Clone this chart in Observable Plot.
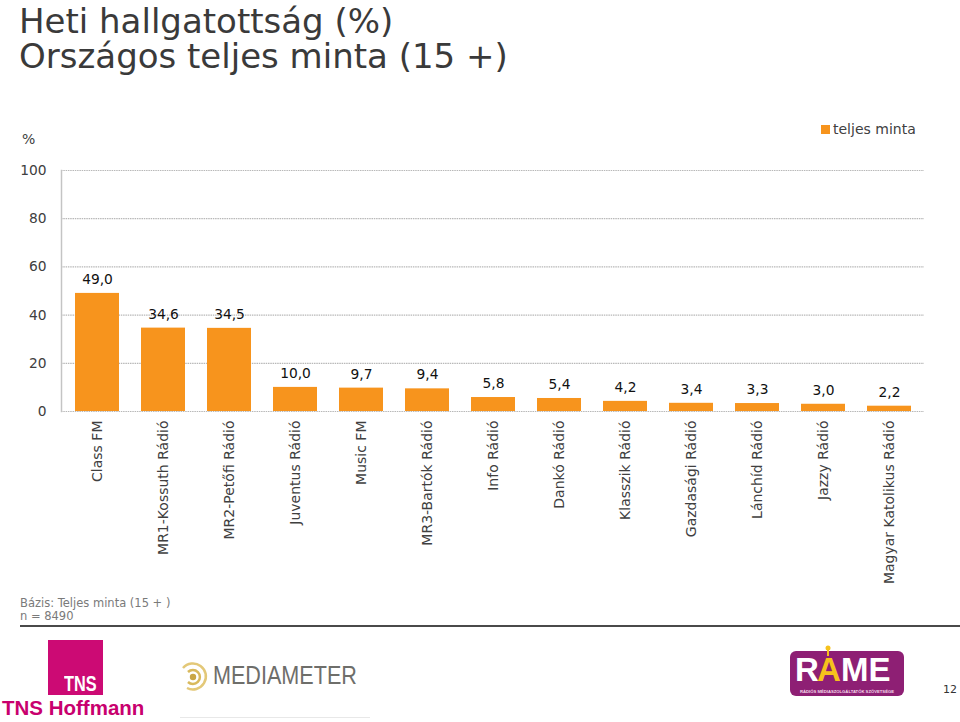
<!DOCTYPE html>
<html>
<head>
<meta charset="utf-8">
<script src="https://cdn.jsdelivr.net/npm/d3@7"></script>
<script src="https://cdn.jsdelivr.net/npm/@observablehq/plot@0.6"></script>
<style>
  html, body { margin: 0; padding: 0; background: #fff; }
  #page { position: relative; width: 960px; height: 722px; overflow: hidden; font-family: "DejaVu Sans", Verdana, sans-serif; }
  .abs { position: absolute; white-space: nowrap; }
  .title { left: 19px; font-size: 34px; line-height: 34px; color: #3a3a3a; }
</style>
</head>
<body>
<div id="page">
  <div class="abs title" style="top:4px;">Heti hallgatottság (%)</div>
  <div class="abs title" style="top:39px;">Országos teljes minta (15 +)</div>
  <div class="abs" style="left:22px; top:131px; font-size:14px; color:#404040;">%</div>
  <div class="abs" style="left:821px; top:121px; font-size:14px; color:#404040;"><span style="display:inline-block;width:9px;height:9px;background:#F7941D;margin-right:3px;vertical-align:0px;"></span>teljes minta</div>
  <div class="abs" id="chart" style="left:0; top:150px;"></div>
  <div class="abs" style="left:20px; top:597px; font-size:11.5px; line-height:13px; color:#7a7a7a;">Bázis: Teljes minta (15 + )<br>n = 8490</div>
  <div class="abs" style="left:20px; top:625px; width:940px; height:2px; background:#4a4a4a;"></div>
  <!-- TNS logo -->
  <div class="abs" style="left:48px; top:640px; width:55px; height:55px; background:#CC0A74;"></div>
  <div class="abs" style="left:64px; top:671px; font-size:22px; line-height:26px; font-weight:bold; color:#fff; font-family:'Liberation Sans',Arial,sans-serif; transform:scaleX(0.74); transform-origin:left top;">TNS</div>
  <div class="abs" style="left:2px; top:696px; font-size:20.5px; font-weight:bold; color:#C8006E; font-family:'Liberation Sans',Arial,sans-serif;">TNS Hoffmann</div>
  <!-- Mediameter logo -->
  <svg class="abs" style="left:178px; top:660px;" width="34" height="34" viewBox="0 0 34 34">
    <circle cx="15" cy="17" r="3.2" fill="#C9A646"/>
    <path d="M10 12 A7 7 0 1 1 10 22" fill="none" stroke="#D8B95C" stroke-width="2.5"/>
    <path d="M5 8 A13 13 0 1 1 9 28" fill="none" stroke="#E3C878" stroke-width="2.5"/>
  </svg>
  <div class="abs" style="left:213px; top:660px; font-size:26px; line-height:30px; color:#6e6e6a; font-family:'Liberation Sans',Arial,sans-serif; transform:scaleX(0.83); transform-origin:left top;">MEDIAMETER</div>
  <div class="abs" style="left:180px; top:717px; width:190px; height:1px; background:#e8e8e8;"></div>
  <!-- RAME logo -->
  <svg class="abs" style="left:788px; top:642px;" width="118" height="58" viewBox="0 0 118 58">
    <rect x="2" y="9" width="114" height="45" rx="6" fill="#8E1F74"/>
    <line x1="40" y1="8" x2="40" y2="14" stroke="#F6C21C" stroke-width="2"/>
    <circle cx="40" cy="6" r="2.5" fill="#F6C21C"/>
    <text x="7" y="39" font-family="'Liberation Sans',Arial,sans-serif" font-weight="bold" font-size="33" fill="#fff">R</text>
    <text x="29" y="39" font-family="'Liberation Sans',Arial,sans-serif" font-weight="bold" font-size="33" fill="#F6C21C">A</text>
    <text x="53" y="39" font-family="'Liberation Sans',Arial,sans-serif" font-weight="bold" font-size="33" fill="#fff">ME</text>
    <text x="59" y="51" text-anchor="middle" font-family="'Liberation Sans',Arial,sans-serif" font-weight="bold" font-size="4.2" fill="#f4d9ea">RÁDIÓS MÉDIASZOLGÁLTATÓK SZÖVETSÉGE</text>
  </svg>
  <div class="abs" style="left:943px; top:683px; font-size:11px; color:#333;">12</div>
</div>
<script>
const categories = ["Class FM", "MR1-Kossuth Rádió", "MR2-Petőfi Rádió", "Juventus Rádió", "Music FM", "MR3-Bartók Rádió", "Info Rádió", "Dankó Rádió", "Klasszik Rádió", "Gazdasági Rádió", "Lánchíd Rádió", "Jazzy Rádió", "Magyar Katolikus Rádió"];
const values = [49.0, 34.6, 34.5, 10.0, 9.7, 9.4, 5.8, 5.4, 4.2, 3.4, 3.3, 3.0, 2.2];
const yTicks = [0, 20, 40, 60, 80, 100];
const seriesName = "teljes minta";

const data = categories.map((c, i) => ({name: c, value: values[i]}));
const fmt = v => v.toFixed(1).replace(".", ",");
const orange = "#F7941D";

const chart = Plot.plot({
  width: 960,
  height: 441,
  marginTop: 20,
  marginBottom: 180,
  marginLeft: 61,
  marginRight: 36,
  style: {fontFamily: "'DejaVu Sans', Verdana, sans-serif", background: "transparent", overflow: "visible"},
  x: {domain: categories, paddingInner: 0.337, paddingOuter: 0.1685, label: null},
  y: {domain: [0, 100], label: null},
  marks: [
    Plot.ruleY(yTicks, {stroke: "#b8b8b8", strokeWidth: 1.2, strokeDasharray: "1.5,0.8"}),
    Plot.frame({anchor: "left", stroke: "#c4c4c4", strokeWidth: 1.5}),
    Plot.barY(data, {x: "name", y: "value", fill: orange}),
    Plot.text(data, {x: "name", y: "value", text: d => fmt(d.value), dy: -14, fontSize: 13.8, fill: "#111"}),
    Plot.axisY({ticks: yTicks, tickSize: 0, tickPadding: 15, fontSize: 13.8, color: "#404040", label: null}),
    Plot.axisX({tickRotate: -90, tickSize: 0, tickPadding: 9, fontSize: 14, color: "#404040", label: null})
  ]
});
document.getElementById("chart").appendChild(chart);
</script>
</body>
</html>
